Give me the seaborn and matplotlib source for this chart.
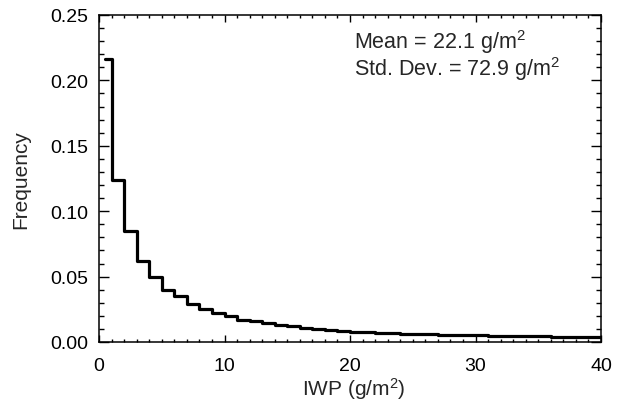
import numpy as np
import pandas as pd
import matplotlib
matplotlib.use("Agg")
import matplotlib.pyplot as plt
import seaborn as sns
from matplotlib.ticker import MultipleLocator

# Data: bin centres (g/m^2) and frequency
bin_centers = [0.5, 1.5, 2.5, 3.5, 4.5, 5.5, 6.5, 7.5, 8.5, 9.5,
               10.5, 11.5, 12.5, 13.5, 14.5, 15.5, 16.5, 17.5, 18.5, 19.5,
               20.5, 21.5, 22.5, 23.5, 24.5, 25.5, 26.5, 27.5, 28.5, 29.5,
               30.5, 31.5, 32.5, 33.5, 34.5, 35.5, 36.5, 37.5, 38.5, 39.5, 40.5]
frequency = [0.216, 0.124, 0.085, 0.062, 0.050, 0.040, 0.035, 0.029, 0.025, 0.022,
             0.020, 0.017, 0.016, 0.0145, 0.013, 0.012, 0.011, 0.010, 0.009, 0.0085,
             0.008, 0.0075, 0.0071, 0.0068, 0.0064, 0.0061, 0.0058, 0.0056, 0.0054, 0.0052,
             0.0050, 0.0048, 0.0047, 0.0045, 0.0044, 0.0043, 0.0042, 0.0041, 0.0040, 0.0039, 0.0038]
x_ticks = [0, 10, 20, 30, 40]
y_ticks = [0.00, 0.05, 0.10, 0.15, 0.20, 0.25]
annot_lines = [r"Mean = 22.1 g/m$^2$", r"Std. Dev. = 72.9 g/m$^2$"]

sns.set_style("ticks")
plt.rcParams["font.family"] = ["Liberation Sans", "DejaVu Sans"]
plt.rcParams["mathtext.fontset"] = "custom"
plt.rcParams["mathtext.rm"] = "Liberation Sans"
plt.rcParams["mathtext.it"] = "Liberation Sans"
plt.rcParams["mathtext.default"] = "regular"

fig = plt.figure(figsize=(6.21, 4.02), dpi=100)
ax = fig.add_axes([99 / 621, 1 - 343 / 402, 502 / 621, 327 / 402])

df = pd.DataFrame({"x": bin_centers, "y": frequency})
sns.lineplot(data=df, x="x", y="y", ax=ax, drawstyle="steps-mid",
             color="black", linewidth=2.3, estimator=None, sort=False)

ax.set_xlim(0, 40)
ax.set_ylim(0, 0.25)
ax.set_xticks(x_ticks)
ax.set_yticks(y_ticks)
ax.set_xticklabels([str(t) for t in x_ticks])
ax.set_yticklabels([f"{t:.2f}" for t in y_ticks])
ax.xaxis.set_minor_locator(MultipleLocator(1))
ax.yaxis.set_minor_locator(MultipleLocator(0.01))

ax.tick_params(axis="both", which="both", direction="in", top=True, right=True,
               width=1.0, labelsize=14, colors="black")
ax.tick_params(axis="x", which="major", length=4.8, pad=11)
ax.tick_params(axis="x", which="minor", length=2.4)
ax.tick_params(axis="y", which="major", length=7.2, pad=8)
ax.tick_params(axis="y", which="minor", length=3.6)

for s in ax.spines.values():
    s.set_visible(True)
    s.set_linewidth(1.1)
    s.set_color("black")

ax.set_xlabel(r"IWP (g/m$^2$)", fontsize=15)
ax.xaxis.label.set_va("baseline")
ax.xaxis.set_label_coords(0.508, -0.162)
ax.set_ylabel("Frequency", fontsize=15, labelpad=14)

ax.text(0.508, 0.899, annot_lines[0], transform=ax.transAxes, fontsize=15.5,
        va="baseline", ha="left")
ax.text(0.508, 0.818, annot_lines[1], transform=ax.transAxes, fontsize=15.5,
        va="baseline", ha="left")

fig.savefig("out.png", dpi=100)
